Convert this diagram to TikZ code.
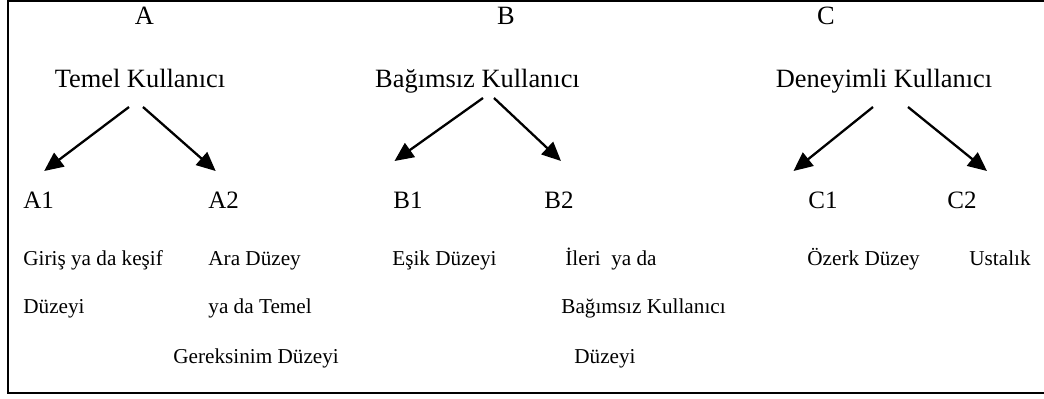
\documentclass[tikz,border=0pt]{standalone}
\usepackage{fontspec}
\setmainfont{Liberation Serif}
\usetikzlibrary{calc,arrows.meta}

\begin{document}
\begin{tikzpicture}[x=0.5pt,y=-0.5pt,%%
  arrowStyle/.style={-{Triangle[length=9.5pt,width=8.5pt]},line width=1.15pt},%%
  headStyle/.style={inner sep=0pt,anchor=base,font=\fontsize{13.2}{16}\selectfont},%%
  levelStyle/.style={inner sep=0pt,anchor=base west,font=\fontsize{12.5}{15}\selectfont},%%
  textStyle/.style={inner sep=0pt,anchor=base west,font=\fontsize{10.6}{13}\selectfont},%%
  frameStyle/.style={-,line width=1.1pt}%%
]
%%
%%
\pgfmathsetmacro{\wide}{1044}
\pgfmathsetmacro{\high}{398}
\pgfmathsetmacro{\ytop}{24}
\pgfmathsetmacro{\yhead}{87}
\pgfmathsetmacro{\ylevel}{208}
%%
\useasboundingbox (0,0) rectangle (\wide,\high);
%% Draw the frame (open on the right).
\draw[frameStyle] (\wide,1) -- (8,1) -- (8,393) -- (\wide,393);
%% The three groups.
\node[headStyle] (letA) at (144.5,\ytop) {A};
\node[headStyle] (letB) at (506,\ytop) {B};
\node[headStyle] (letC) at (826,\ytop) {C};
\node[headStyle] (headA) at (140,\yhead) {Temel Kullanıcı};
\node[headStyle] (headB) at (477.5,\yhead) {Bağımsız Kullanıcı};
\node[headStyle] (headC) at (884,\yhead) {Deneyimli Kullanıcı};
%% The six levels.
\node[levelStyle] (a1) at (23,\ylevel) {A1};
\node[levelStyle] (a2) at (208,\ylevel) {A2};
\node[levelStyle] (b1) at (393,\ylevel) {B1};
\node[levelStyle] (b2) at (544,\ylevel) {B2};
\node[levelStyle] (c1) at (808,\ylevel) {C1};
\node[levelStyle] (c2) at (947,\ylevel) {C2};
%% Arrows from each group to its levels.
\draw[arrowStyle] ($(headA.base)+(-11,20)$) -- ($(a1.base)+(5.5,-37)$);
\draw[arrowStyle] ($(headA.base)+(3,20)$) -- ($(a2.base)+(-8,-37)$);
\draw[arrowStyle] ($(headB.base)+(5.5,11)$) -- ($(b1.base)+(-13.5,-47)$);
\draw[arrowStyle] ($(headB.base)+(16.5,11)$) -- ($(b2.base)+(2,-47)$);
\draw[arrowStyle] ($(headC.base)+(-11,20)$) -- ($(c1.base)+(-29.5,-37)$);
\draw[arrowStyle] ($(headC.base)+(24,20)$) -- ($(c2.base)+(25,-37)$);
%% Descriptions of the levels.
\node[textStyle] (a1l1) at (23,265) {Giriş ya da keşif};
\node[textStyle] (a1l2) at (23,313) {Düzeyi};
\node[textStyle] (a2l1) at (208,265) {Ara Düzey};
\node[textStyle] (a2l2) at (208,313) {ya da Temel};
\node[textStyle] (a2l3) at (173,363) {Gereksinim Düzeyi};
\node[textStyle] (b1l1) at (392,265) {Eşik Düzeyi};
\node[textStyle] (b2l1) at (565,265) {İleri\ \ ya da};
\node[textStyle] (b2l2) at (561,313) {Bağımsız Kullanıcı};
\node[textStyle] (b2l3) at (574,363) {Düzeyi};
\node[textStyle] (c1l1) at (807,265) {Özerk Düzey};
\node[textStyle] (c2l1) at (969,265) {Ustalık};
\end{tikzpicture}
\end{document}
